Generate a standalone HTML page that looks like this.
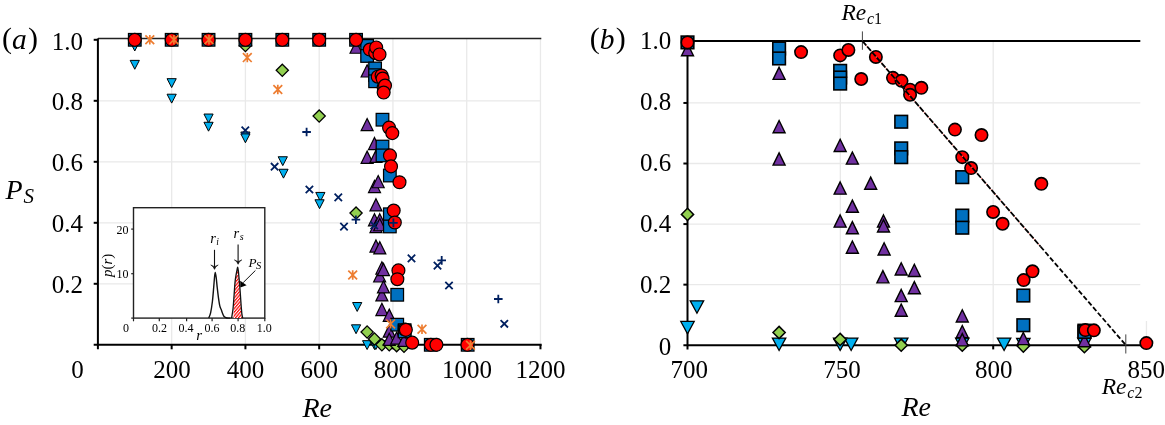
<!DOCTYPE html>
<html><head><meta charset="utf-8"><title>Figure</title>
<style>
html,body{margin:0;padding:0;background:#fff;}
svg{display:block;transform:translateZ(0);will-change:transform;}
text{font-family:"Liberation Serif",serif;fill:#000;}
.i{font-style:italic;}
</style></head><body>
<svg width="1165" height="425" viewBox="0 0 1165 425">
<defs><pattern id="hatch" width="4" height="2.3" patternUnits="userSpaceOnUse" patternTransform="rotate(-50)"><rect width="4" height="2.3" fill="#fff"/><rect width="4" height="1.2" fill="#ff0000"/></pattern></defs>
<rect width="1165" height="425" fill="#fff"/>
<g stroke="#e9e9e9" stroke-width="1.3" fill="none"><path d="M97.9 283.8H540.8"/><path d="M97.9 222.8H540.8"/><path d="M97.9 161.8H540.8"/><path d="M97.9 100.8H540.8"/><path d="M171.66 38.5V344.8"/><path d="M245.42 38.5V344.8"/><path d="M319.18 38.5V344.8"/><path d="M392.94 38.5V344.8"/><path d="M466.7 38.5V344.8"/><path d="M540.46 38.5V344.8"/></g>
<path d="M97.9 38.5H541.3" stroke="#222" stroke-width="1.4" fill="none"/>
<g stroke="#000" stroke-width="2" fill="none"><path d="M97.9 38.5V349.3"/><path d="M93.7 344.8H541.7"/><path d="M93.7 283.8H97.9"/><path d="M93.7 222.8H97.9"/><path d="M93.7 161.8H97.9"/><path d="M93.7 100.8H97.9"/><path d="M93.7 39.8H97.9"/><path d="M171.66 344.8V349.3"/><path d="M245.42 344.8V349.3"/><path d="M319.18 344.8V349.3"/><path d="M392.94 344.8V349.3"/><path d="M466.7 344.8V349.3"/><path d="M540.46 344.8V349.3"/></g>
<rect x="133.5" y="207.7" width="131.3" height="110.4" fill="#fff" stroke="#222" stroke-width="1.4"/>
<g stroke="#222" stroke-width="1.2" fill="none"><path d="M133.5 318.1V321.3"/><path d="M159.3 318.1V321.3"/><path d="M186.6 318.1V321.3"/><path d="M212.1 318.1V321.3"/><path d="M238.1 318.1V321.3"/><path d="M264.8 318.1V321.3"/><path d="M131.2 229.1H133.5"/><path d="M131.2 273.7H133.5"/><path d="M131.2 318.1H133.5"/></g>
<path d="M208.7 318.1C209.02 317.22 209.98 315.57 210.6 312.8C211.22 310.03 211.88 305.73 212.4 301.5C212.92 297.27 213.35 291.4 213.7 287.4C214.05 283.4 214.24 280 214.5 277.5C214.76 275 214.97 272.4 215.25 272.4C215.53 272.4 215.88 275 216.2 277.5C216.52 280 216.83 284.1 217.2 287.4C217.57 290.7 217.97 294.23 218.4 297.3C218.83 300.37 219.33 303.75 219.8 305.8C220.27 307.85 220.73 308.32 221.2 309.6C221.67 310.88 222.08 312.3 222.6 313.5C223.12 314.7 223.6 316.05 224.3 316.8C225 317.55 225.78 317.78 226.8 318C227.82 318.22 229.8 318.08 230.4 318.1" fill="none" stroke="#111" stroke-width="1.4" stroke-linejoin="round"/>
<path d="M233.56 318.1C233.61 316.08 233.66 310.68 233.85 306C234.03 301.32 234.41 294.42 234.69 290C234.97 285.58 235.26 282.17 235.54 279.5C235.82 276.83 236.12 275.55 236.38 274C236.65 272.45 236.92 271.13 237.14 270.2C237.36 269.27 237.52 268.27 237.7 268.4C237.88 268.53 238 269 238.22 271C238.43 273 238.7 276.73 238.99 280.4C239.28 284.07 239.65 289 239.94 293C240.22 297 240.45 300.87 240.71 304.4C240.97 307.93 241.27 311.92 241.48 314.2C241.7 316.48 241.91 317.45 242 318.1Z" fill="url(#hatch)" stroke="none"/>
<path d="M231.59 318.1C231.83 316.52 232.62 312.53 233.05 308.6C233.47 304.67 233.79 298.97 234.13 294.5C234.46 290.03 234.74 285.1 235.07 281.8C235.4 278.5 235.77 276.7 236.1 274.7C236.43 272.7 236.78 271.05 237.04 269.8C237.31 268.55 237.49 267.08 237.7 267.2C237.91 267.32 238.04 268.3 238.3 270.5C238.56 272.7 238.92 276.65 239.25 280.4C239.58 284.15 239.98 289 240.28 293C240.58 297 240.78 300.87 241.05 304.4C241.33 307.93 241.64 311.92 241.91 314.2C242.19 316.48 242.56 317.45 242.69 318.1" fill="none" stroke="#111" stroke-width="1.3" stroke-linejoin="round"/>
<path d="M214.5 249.8V268.4" stroke="#111" stroke-width="1.1" fill="none"/><path d="M210.8 265Q213.6 266.4 214.5 269.4Q215.4 266.4 218.2 265L214.5 266.7Z" fill="#111" stroke="#111" stroke-width="0.6" stroke-linejoin="round"/><path d="M238.1 244.5V263.3" stroke="#111" stroke-width="1.1" fill="none"/><path d="M234.4 259.9Q237.2 261.3 238.1 264.3Q239 261.3 241.8 259.9L238.1 261.6Z" fill="#111" stroke="#111" stroke-width="0.6" stroke-linejoin="round"/>
<path d="M255.4 270.5L243.2 282.6" stroke="#111" stroke-width="1" fill="none"/>
<path d="M240.2 280.8L246.6 285.2L240.3 287.5Z" fill="#000"/>
<g font-size="12"><text x="126" y="332" text-anchor="middle">0</text><text x="159.6" y="332" text-anchor="middle">0.2</text><text x="185.9" y="332" text-anchor="middle">0.4</text><text x="211.9" y="332" text-anchor="middle">0.6</text><text x="237.7" y="332" text-anchor="middle">0.8</text><text x="264.3" y="332" text-anchor="middle">1.0</text><text x="128.6" y="233.7" text-anchor="end">20</text><text x="128.6" y="278.1" text-anchor="end">10</text></g>
<text class="i" font-size="15" x="196.2" y="340.2">r</text>
<text font-size="15" transform="translate(112.4,277.0) rotate(-90)"><tspan class="i">p</tspan>(<tspan class="i">r</tspan>)</text>
<text class="i" font-size="14.5" x="210.2" y="242.7">r<tspan font-size="9.5" dy="2.0" dx="0.5">i</tspan></text>
<text class="i" font-size="14.5" x="233.5" y="237.6">r<tspan font-size="10" dy="2.3" dx="0.5">s</tspan></text>
<text class="i" font-size="13.2" x="248.6" y="266.7">P<tspan font-size="10.6" dy="2.6" dx="-0.7">S</tspan></text>
<g fill="#00b0f0" stroke="#000" stroke-width="1" ><path d="M130.18 42.06L139.38 42.06L134.78 50.96Z"/><path d="M130.18 60.36L139.38 60.36L134.78 69.26Z"/><path d="M167.06 78.66L176.26 78.66L171.66 87.56Z"/><path d="M167.06 94.21L176.26 94.21L171.66 103.11Z"/><path d="M203.94 114.04L213.14 114.04L208.54 122.94Z"/><path d="M203.94 122.28L213.14 122.28L208.54 131.18Z"/><path d="M240.82 132.03L250.02 132.03L245.42 140.93Z"/><path d="M240.82 133.87L250.02 133.87L245.42 142.76Z"/><path d="M278.18 156.74L287.38 156.74L282.78 165.64Z"/><path d="M278.88 169.25L288.08 169.25L283.48 178.14Z"/><path d="M315.76 192.43L324.96 192.43L320.36 201.33Z"/><path d="M314.95 199.75L324.15 199.75L319.55 208.64Z"/><path d="M352.6 302.53L361.8 302.53L357.2 311.43Z"/><path d="M351.46 324.8L360.66 324.8L356.06 333.69Z"/><path d="M362.52 340.66L371.72 340.66L367.12 349.56Z"/><path d="M369.9 340.66L379.1 340.66L374.5 349.56Z"/><path d="M371.23 340.66L380.43 340.66L375.83 349.56Z"/><path d="M377.28 340.66L386.48 340.66L381.88 349.56Z"/><path d="M384.65 340.66L393.85 340.66L389.25 349.56Z"/><path d="M389.7 340.66L398.9 340.66L394.3 349.56Z"/><path d="M392.03 340.66L401.23 340.66L396.63 349.56Z"/><path d="M399.4 340.66L408.6 340.66L404 349.56Z"/></g>
<g fill="#92d050" stroke="#000" stroke-width="1.3" ><path d="M245.42 39.5L251.52 45.6L245.42 51.7L239.32 45.6Z"/><path d="M282.3 64.2L288.4 70.3L282.3 76.4L276.2 70.3Z"/><path d="M319.18 109.95L325.28 116.05L319.18 122.15L313.08 116.05Z"/><path d="M356.06 206.94L362.16 213.04L356.06 219.14L349.96 213.04Z"/><path d="M367.12 325.89L373.22 331.99L367.12 338.09L361.02 331.99Z"/><path d="M374.5 332.9L380.6 339L374.5 345.11L368.4 339Z"/><path d="M381.88 338.7L387.98 344.8L381.88 350.9L375.78 344.8Z"/><path d="M389.25 338.7L395.35 344.8L389.25 350.9L383.15 344.8Z"/><path d="M396.63 339.62L402.73 345.72L396.63 351.82L390.53 345.72Z"/><path d="M404 340.22L410.1 346.32L404 352.43L397.9 346.32Z"/></g>
<g fill="#7030a0" stroke="#000" stroke-width="1.2" ><path d="M356.06 41.03L362.06 53.23L350.06 53.23Z"/><path d="M367.12 64.82L373.12 77.02L361.12 77.02Z"/><path d="M367.12 118.5L373.12 130.7L361.12 130.7Z"/><path d="M367.12 151.13L373.12 163.33L361.12 163.33Z"/><path d="M374.5 137.41L380.5 149.6L368.5 149.6Z"/><path d="M374.5 180.41L380.5 192.61L368.5 192.61Z"/><path d="M374.5 213.66L380.5 225.85L368.5 225.85Z"/><path d="M375.98 150.22L381.98 162.41L369.98 162.41Z"/><path d="M375.98 198.71L381.98 210.91L369.98 210.91Z"/><path d="M375.98 220.37L381.98 232.56L369.98 232.56Z"/><path d="M375.98 239.89L381.98 252.09L369.98 252.09Z"/><path d="M378.19 175.53L384.19 187.73L372.19 187.73Z"/><path d="M379.74 213.66L385.74 225.85L373.74 225.85Z"/><path d="M379.74 218.53L385.74 230.73L373.74 230.73Z"/><path d="M379.81 241.72L385.81 253.91L373.81 253.91Z"/><path d="M379.66 269.77L385.66 281.98L373.66 281.98Z"/><path d="M381.88 261.84L387.88 274.05L375.88 274.05Z"/><path d="M381.88 288.69L387.88 300.89L375.88 300.89Z"/><path d="M381.88 303.32L387.88 315.53L375.88 315.53Z"/><path d="M383.46 263.37L389.46 275.57L377.46 275.57Z"/><path d="M383.46 280.75L389.46 292.96L377.46 292.96Z"/><path d="M389.25 309.12L395.25 321.32L383.25 321.32Z"/><path d="M389.25 324.98L395.25 337.18L383.25 337.18Z"/><path d="M389.25 333.21L395.25 345.42L383.25 345.42Z"/><path d="M396.63 332L402.63 344.2L390.63 344.2Z"/><path d="M404 334.13L410 346.33L398 346.33Z"/></g>
<g fill="#0070c0" stroke="#000" stroke-width="1.25" ><rect x="128.48" y="33.5" width="12.6" height="12.6"/><rect x="165.36" y="33.5" width="12.6" height="12.6"/><rect x="202.24" y="33.5" width="12.6" height="12.6"/><rect x="239.12" y="33.5" width="12.6" height="12.6"/><rect x="276" y="33.5" width="12.6" height="12.6"/><rect x="312.88" y="33.5" width="12.6" height="12.6"/><rect x="349.76" y="33.5" width="12.6" height="12.6"/><rect x="360.82" y="39.6" width="12.6" height="12.6"/><rect x="360.82" y="49.67" width="12.6" height="12.6"/><rect x="368.8" y="62.17" width="12.6" height="12.6"/><rect x="368.8" y="68.88" width="12.6" height="12.6"/><rect x="368.8" y="74.98" width="12.6" height="12.6"/><rect x="376.18" y="113.41" width="12.6" height="12.6"/><rect x="376.18" y="140.25" width="12.6" height="12.6"/><rect x="376.18" y="149.09" width="12.6" height="12.6"/><rect x="383.55" y="169.22" width="12.6" height="12.6"/><rect x="383.55" y="207.96" width="12.6" height="12.6"/><rect x="383.55" y="220.16" width="12.6" height="12.6"/><rect x="390.93" y="288.48" width="12.6" height="12.6"/><rect x="390.93" y="318.37" width="12.6" height="12.6"/><rect x="398.3" y="323.86" width="12.6" height="12.6"/><rect x="398.3" y="325.08" width="12.6" height="12.6"/><rect x="424.49" y="338.5" width="12.6" height="12.6"/><rect x="461.37" y="338.5" width="12.6" height="12.6"/></g>
<g fill="#ff0000" stroke="#000" stroke-width="1.2" ><circle cx="134.78" cy="39.8" r="6.45"/><circle cx="171.66" cy="39.8" r="6.45"/><circle cx="208.54" cy="39.8" r="6.45"/><circle cx="245.42" cy="39.8" r="6.45"/><circle cx="282.3" cy="39.8" r="6.45"/><circle cx="319.18" cy="39.8" r="6.45"/><circle cx="356.06" cy="39.8" r="6.45"/><circle cx="369.78" cy="49.56" r="6.45"/><circle cx="375.2" cy="52.92" r="6.45"/><circle cx="376.2" cy="47.43" r="6.45"/><circle cx="377.74" cy="76.7" r="6.45"/><circle cx="379.51" cy="54.44" r="6.45"/><circle cx="381.58" cy="75.49" r="6.45"/><circle cx="382.61" cy="78.54" r="6.45"/><circle cx="383.65" cy="87.38" r="6.45"/><circle cx="385.01" cy="85.55" r="6.45"/><circle cx="383.65" cy="92.57" r="6.45"/><circle cx="389.07" cy="127.64" r="6.45"/><circle cx="392.28" cy="133.13" r="6.45"/><circle cx="389.95" cy="155.4" r="6.45"/><circle cx="391.02" cy="166.38" r="6.45"/><circle cx="399.5" cy="182.24" r="6.45"/><circle cx="393.68" cy="210.6" r="6.45"/><circle cx="394.82" cy="222.5" r="6.45"/><circle cx="398.43" cy="270.38" r="6.45"/><circle cx="397.36" cy="279.23" r="6.45"/><circle cx="404.81" cy="329.55" r="6.45"/><circle cx="405.85" cy="329.86" r="6.45"/><circle cx="412.19" cy="342.67" r="6.45"/><circle cx="430.89" cy="344.8" r="6.45"/><circle cx="436.42" cy="344.8" r="6.45"/><circle cx="467.4" cy="344.8" r="6.45"/></g>
<g fill="none" stroke="#ed7d31" stroke-width="1.7" ><path d="M145.4 35.4L154.2 44.2M145.4 44.2L154.2 35.4M149.8 35.1L149.8 44.5"/><path d="M169.5 35.4L178.3 44.2M169.5 44.2L178.3 35.4M173.9 35.1L173.9 44.5"/><path d="M204.6 35.4L213.4 44.2M204.6 44.2L213.4 35.4M209 35.1L209 44.5"/><path d="M242.9 53.2L251.7 62M242.9 62L251.7 53.2M247.3 52.9L247.3 62.3"/><path d="M273.4 85.1L282.2 93.9M273.4 93.9L282.2 85.1M277.8 84.8L277.8 94.2"/><path d="M348.3 270.6L357.1 279.4M348.3 279.4L357.1 270.6M352.7 270.3L352.7 279.7"/><path d="M386.2 319.5L395 328.3M386.2 328.3L395 319.5M390.6 319.2L390.6 328.6"/><path d="M417.6 324.9L426.4 333.7M417.6 333.7L426.4 324.9M422 324.6L422 334"/><path d="M466.1 340.9L474.9 349.7M466.1 349.7L474.9 340.9M470.5 340.6L470.5 350"/></g>
<g fill="none" stroke="#002060" stroke-width="1.8" ><path d="M241.6 126.7L249 134.1M241.6 134.1L249 126.7"/><path d="M270.9 163L278.3 170.4M270.9 170.4L278.3 163"/><path d="M305.7 185.8L313.1 193.2M305.7 193.2L313.1 185.8"/><path d="M334.6 193.7L342 201.1M334.6 201.1L342 193.7"/><path d="M340.3 222.9L347.7 230.3M340.3 230.3L347.7 222.9"/><path d="M370.5 221.7L377.9 229.1M370.5 229.1L377.9 221.7"/><path d="M407.8 254.7L415.2 262.1M407.8 262.1L415.2 254.7"/><path d="M433.8 261.9L441.2 269.3M433.8 269.3L441.2 261.9"/><path d="M445.3 281.8L452.7 289.2M445.3 289.2L452.7 281.8"/><path d="M500.6 320.1L508 327.5M500.6 327.5L508 320.1"/></g>
<g fill="none" stroke="#002060" stroke-width="1.8" ><path d="M302.3 132L310.9 132M306.6 127.7L306.6 136.3"/><path d="M351.6 219.7L360.2 219.7M355.9 215.4L355.9 224"/><path d="M389.1 222.9L397.7 222.9M393.4 218.6L393.4 227.2"/><path d="M437.4 260.4L446 260.4M441.7 256.1L441.7 264.7"/><path d="M494 299L502.6 299M498.3 294.7L498.3 303.3"/></g>
<text font-size="30" x="2" y="47.5">(<tspan class="i" font-size="29.5" dy="1.8">a</tspan><tspan dy="-1.8" dx="1.2">)</tspan></text>
<g font-size="25" text-anchor="end"><text x="83" y="49.7">1.0</text><text x="83" y="110.4">0.8</text><text x="83" y="171.1">0.6</text><text x="83" y="231.9">0.4</text><text x="83" y="292.6">0.2</text></g>
<text class="i" font-size="28" x="5.5" y="199.2">P<tspan font-size="21" dy="4.2" dx="0.8">S</tspan></text>
<g font-size="25" text-anchor="middle"><text x="77.4" y="378">0</text><text x="172" y="378">200</text><text x="245.4" y="378">400</text><text x="319.2" y="378">600</text><text x="392.4" y="378">800</text><text x="467" y="378">1000</text><text x="540.6" y="378">1200</text></g>
<text class="i" font-size="28" x="302.5" y="416.6">Re</text>
<g stroke="#e9e9e9" stroke-width="1.3" fill="none"><path d="M687.5 284.64H1140.3"/><path d="M687.5 224.08H1140.3"/><path d="M687.5 163.52H1140.3"/><path d="M687.5 102.96H1140.3"/><path d="M840.35 41V345.2"/><path d="M993.2 41V345.2"/><path d="M1146.45 321V345.2"/></g>
<g stroke="#000" stroke-width="2" fill="none"><path d="M687.5 41H1140.3"/><path d="M687.5 40.6V349.4"/><path d="M683.4 345.2H1147"/><path d="M683.4 284.64H687.5"/><path d="M683.4 224.08H687.5"/><path d="M683.4 163.52H687.5"/><path d="M683.4 102.96H687.5"/><path d="M840.35 345.2V349.4"/><path d="M993.2 345.2V349.4"/></g>
<g stroke="#444" stroke-width="1" fill="none"><path d="M862.4 31.4V49.8"/><path d="M1125.8 334.4V353.5"/></g>
<g fill="#00b0f0" stroke="#000" stroke-width="1.3" ><path d="M690.26 300.85L703.66 300.85L696.96 313.25Z"/><path d="M680.8 321.44L694.2 321.44L687.5 333.84Z"/><path d="M772.39 338.09L785.79 338.09L779.09 350.49Z"/><path d="M833.45 338.09L846.85 338.09L840.15 350.49Z"/><path d="M844.44 338.09L857.84 338.09L851.14 350.49Z"/><path d="M894.51 338.09L907.91 338.09L901.21 350.49Z"/><path d="M955.57 338.09L968.97 338.09L962.27 350.49Z"/><path d="M997.4 338.09L1010.8 338.09L1004.1 350.49Z"/><path d="M1016.63 338.39L1030.03 338.39L1023.33 350.79Z"/><path d="M1077.69 338.09L1091.09 338.09L1084.39 350.49Z"/></g>
<g fill="#92d050" stroke="#000" stroke-width="1.5" ><path d="M687.5 208.29L693.6 214.39L687.5 220.49L681.4 214.39Z"/><path d="M779.09 326.38L785.19 332.48L779.09 338.58L772.99 332.48Z"/><path d="M840.15 333.35L846.25 339.45L840.15 345.55L834.05 339.45Z"/><path d="M901.21 339.1L907.31 345.2L901.21 351.3L895.11 345.2Z"/><path d="M962.27 339.1L968.37 345.2L962.27 351.3L956.17 345.2Z"/><path d="M1023.33 340.01L1029.43 346.11L1023.33 352.21L1017.23 346.11Z"/><path d="M1084.39 340.61L1090.49 346.71L1084.39 352.81L1078.29 346.71Z"/></g>
<g fill="#7030a0" stroke="#000" stroke-width="1.4" ><path d="M687.5 43.57L693.5 55.77L681.5 55.77Z"/><path d="M779.09 67.19L785.09 79.39L773.09 79.39Z"/><path d="M779.09 120.48L785.09 132.68L773.09 132.68Z"/><path d="M779.09 152.88L785.09 165.08L773.09 165.08Z"/><path d="M840.15 139.25L846.15 151.45L834.15 151.45Z"/><path d="M840.15 181.95L846.15 194.15L834.15 194.15Z"/><path d="M840.15 214.95L846.15 227.15L834.15 227.15Z"/><path d="M852.36 151.97L858.36 164.17L846.36 164.17Z"/><path d="M852.36 200.12L858.36 212.32L846.36 212.32Z"/><path d="M852.36 221.62L858.36 233.82L846.36 233.82Z"/><path d="M852.36 241L858.36 253.2L846.36 253.2Z"/><path d="M870.68 177.1L876.68 189.3L864.68 189.3Z"/><path d="M883.5 214.95L889.5 227.15L877.5 227.15Z"/><path d="M883.5 219.8L889.5 232L877.5 232Z"/><path d="M884.11 242.81L890.11 255.01L878.11 255.01Z"/><path d="M882.89 270.67L888.89 282.87L876.89 282.87Z"/><path d="M901.21 262.8L907.21 275L895.21 275Z"/><path d="M901.21 289.44L907.21 301.64L895.21 301.64Z"/><path d="M901.21 303.98L907.21 316.18L895.21 316.18Z"/><path d="M914.34 264.31L920.34 276.51L908.34 276.51Z"/><path d="M914.34 281.57L920.34 293.77L908.34 293.77Z"/><path d="M962.27 309.73L968.27 321.93L956.27 321.93Z"/><path d="M962.27 325.48L968.27 337.68L956.27 337.68Z"/><path d="M962.27 333.65L968.27 345.85L956.27 345.85Z"/><path d="M1023.33 332.44L1029.33 344.64L1017.33 344.64Z"/><path d="M1084.39 334.56L1090.39 346.76L1078.39 346.76Z"/></g>
<g fill="#0070c0" stroke="#000" stroke-width="1.6" ><rect x="681.2" y="36.1" width="12.6" height="12.6"/><rect x="772.79" y="42.16" width="12.6" height="12.6"/><rect x="772.79" y="52.15" width="12.6" height="12.6"/><rect x="833.85" y="64.56" width="12.6" height="12.6"/><rect x="833.85" y="71.22" width="12.6" height="12.6"/><rect x="833.85" y="77.28" width="12.6" height="12.6"/><rect x="894.91" y="115.43" width="12.6" height="12.6"/><rect x="894.91" y="142.08" width="12.6" height="12.6"/><rect x="894.91" y="150.86" width="12.6" height="12.6"/><rect x="955.97" y="170.85" width="12.6" height="12.6"/><rect x="955.97" y="209.3" width="12.6" height="12.6"/><rect x="955.97" y="221.41" width="12.6" height="12.6"/><rect x="1017.03" y="289.24" width="12.6" height="12.6"/><rect x="1017.03" y="318.92" width="12.6" height="12.6"/><rect x="1078.09" y="324.37" width="12.6" height="12.6"/><rect x="1078.09" y="325.58" width="12.6" height="12.6"/></g>
<g fill="#ff0000" stroke="#000" stroke-width="1.6" ><circle cx="687.5" cy="42.4" r="6.2"/><circle cx="801.07" cy="52.09" r="6.2"/><circle cx="840.15" cy="55.42" r="6.2"/><circle cx="848.39" cy="49.97" r="6.2"/><circle cx="861.22" cy="79.04" r="6.2"/><circle cx="875.87" cy="56.93" r="6.2"/><circle cx="892.97" cy="77.83" r="6.2"/><circle cx="901.52" cy="80.86" r="6.2"/><circle cx="910.06" cy="89.64" r="6.2"/><circle cx="921.36" cy="87.82" r="6.2"/><circle cx="910.06" cy="94.78" r="6.2"/><circle cx="954.94" cy="129.61" r="6.2"/><circle cx="981.5" cy="135.06" r="6.2"/><circle cx="962.27" cy="157.16" r="6.2"/><circle cx="971.12" cy="168.06" r="6.2"/><circle cx="1041.34" cy="183.81" r="6.2"/><circle cx="993.11" cy="211.97" r="6.2"/><circle cx="1002.57" cy="223.78" r="6.2"/><circle cx="1032.49" cy="271.32" r="6.2"/><circle cx="1023.64" cy="280.1" r="6.2"/><circle cx="1085.31" cy="330.06" r="6.2"/><circle cx="1093.85" cy="330.36" r="6.2"/><circle cx="1146.37" cy="343.08" r="6.2"/></g>
<path d="M862.4 41L1040.5 246.5" stroke="#ff6a60" stroke-width="0.9" fill="none"/>
<path d="M862.4 41L1040.5 246.5" stroke="#000" stroke-width="1.8" stroke-dasharray="5.8 1.5" fill="none"/>
<path d="M1040.5 246.5L1125.8 345" stroke="#000" stroke-width="1.8" stroke-dasharray="5 2.3" fill="none"/>
<text font-size="30" x="589.7" y="47.6">(<tspan class="i" font-size="29.5" dy="1.8">b</tspan><tspan dy="-1.8" dx="1.2">)</tspan></text>
<g font-size="25" text-anchor="end"><text x="671.2" y="49">1.0</text><text x="671.2" y="110.4">0.8</text><text x="671.2" y="171.1">0.6</text><text x="671.2" y="231.9">0.4</text><text x="671.2" y="292.6">0.2</text><text x="671.2" y="355.2">0</text></g>
<g font-size="25" text-anchor="middle"><text x="689.3" y="377.6">700</text><text x="842.1" y="377.6">750</text><text x="993.8" y="377.6">800</text><text x="1146.2" y="377.6">850</text></g>
<text class="i" font-size="28" x="901.4" y="416.4">Re</text>
<text class="i" font-size="23.5" x="841.4" y="19.9">Re<tspan font-size="16" dy="4.1" dx="0.8">c</tspan><tspan font-size="16" font-style="normal">1</tspan></text>
<text class="i" font-size="23.5" x="1101.7" y="394.1">Re<tspan font-size="16" dy="4.1" dx="0.8">c</tspan><tspan font-size="16" font-style="normal">2</tspan></text>
</svg>
</body></html>
